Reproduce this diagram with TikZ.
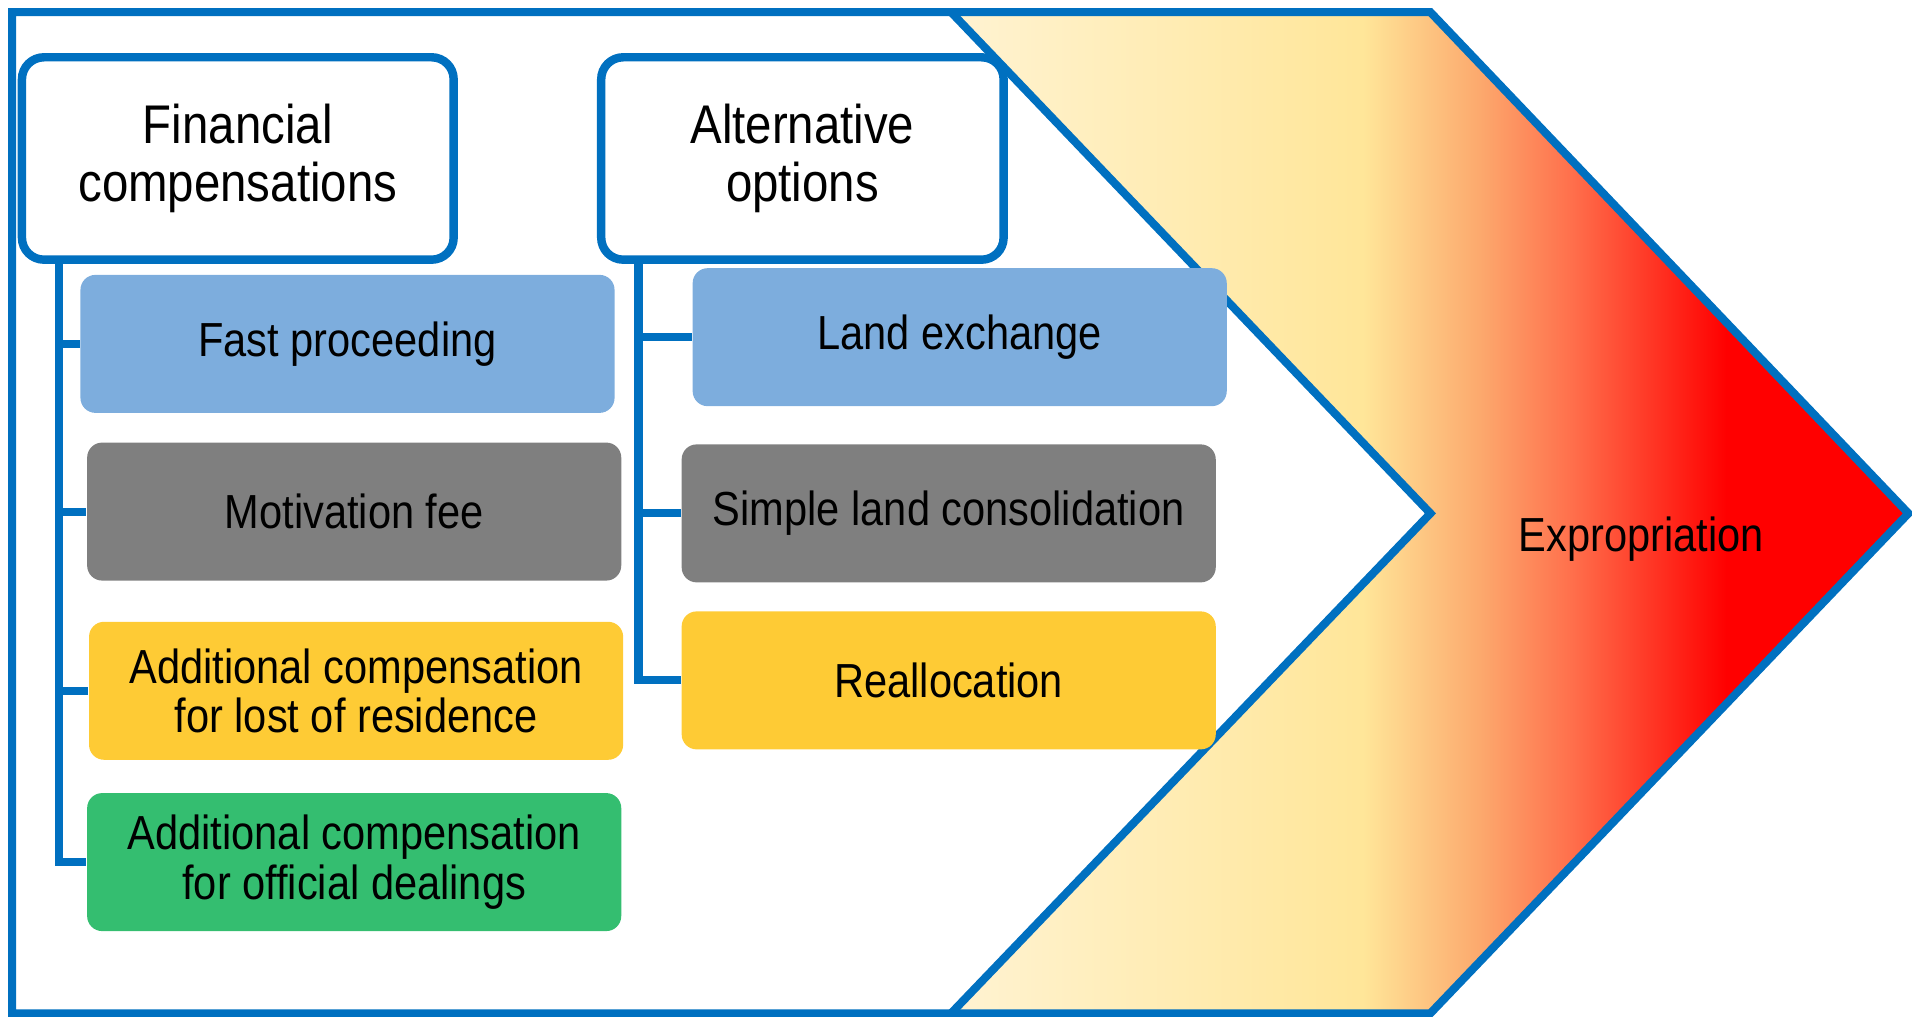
\documentclass[tikz,border=0pt]{standalone}
\usepackage{fontspec}
\setmainfont{Liberation Sans}[FakeStretch=0.87]

\definecolor{lineblue}{HTML}{0070C0}
\definecolor{boxblue}{HTML}{7DADDD}
\definecolor{boxgray}{HTML}{7F7F7F}
\definecolor{boxyellow}{HTML}{FECB35}
\definecolor{boxgreen}{HTML}{34BE70}
\definecolor{cream}{HTML}{FFF3D2}
\definecolor{paleyellow}{HTML}{FFE699}
\definecolor{paleorange}{HTML}{FCAA6E}
\definecolor{coral}{HTML}{FF6E4B}

\pgfdeclarehorizontalshading{exprograd}{100bp}{color(0bp)=(cream); color(25bp)=(cream); color(46.5bp)=(paleyellow); color(52.5bp)=(paleorange); color(57.5bp)=(coral); color(65.5bp)=(red); color(100bp)=(red)}

\begin{document}
\begin{tikzpicture}

\useasboundingbox (0,0) rectangle (19.12,10.17);

\tikzstyle{frame} = [draw=lineblue, line width=2.3pt]
\tikzstyle{link} = [draw=lineblue, line width=2.3pt]
\tikzstyle{head} = [draw=lineblue, line width=2.4pt, fill=white, rounded corners=0.22cm, minimum height=2.024cm, align=center, font=\fontsize{15.5}{16.6}\selectfont]
\tikzstyle{item} = [rounded corners=0.15cm, minimum width=5.341cm, minimum height=1.38cm, align=center, font=\fontsize{13.6}{14.1}\selectfont]

%Expropriation arrow
\shade[shading=exprograd] (9.511,10.048) -- (14.304,10.048) -- (19.084,5.036) -- (14.304,0.037) -- (9.511,0.037) -- (14.304,5.036) -- cycle;
\draw[frame] (0.122,10.048) -- (14.304,10.048) -- (19.084,5.036) -- (14.304,0.037) -- (0.122,0.037) -- cycle;
\draw[frame] (9.511,10.048) -- (14.304,5.036) -- (9.511,0.037);
\node[anchor=base, font=\fontsize{13.6}{14.1}\selectfont] (expro) at (16.413,4.658) {Expropriation};

% Headers
\node[head, minimum width=4.317cm] (fin) at (2.378,8.585) {Financial\\compensations};
\node[head, minimum width=4.024cm] (alt) at (8.024,8.585) {Alternative\\options};

% Financial compensations
\node[item, fill=boxblue] (fast) at (3.475,6.731) {Fast proceeding};
\node[item, fill=boxgray] (motiv) at (3.542,5.054) {Motivation fee};
\node[item, fill=boxyellow] (resid) at (3.561,3.262) {Additional compensation\\for lost of residence};
\node[item, fill=boxgreen] (offic) at (3.542,1.549) {Additional compensation\\for official dealings};

% Alternative options
\node[item, fill=boxblue] (land) at (9.597,6.798) {Land exchange};
\node[item, fill=boxgray] (simple) at (9.487,5.036) {Simple land consolidation};
\node[item, fill=boxyellow] (realloc) at (9.487,3.366) {Reallocation};

% Links
\foreach \b in {fast, motiv, resid, offic}
\draw[link] ([xshift=0.415cm]fin.south west) |- (\b.west);
\foreach \b in {land, simple, realloc}
\draw[link] ([xshift=0.415cm]alt.south west) |- (\b.west);

\end{tikzpicture}
\end{document}
